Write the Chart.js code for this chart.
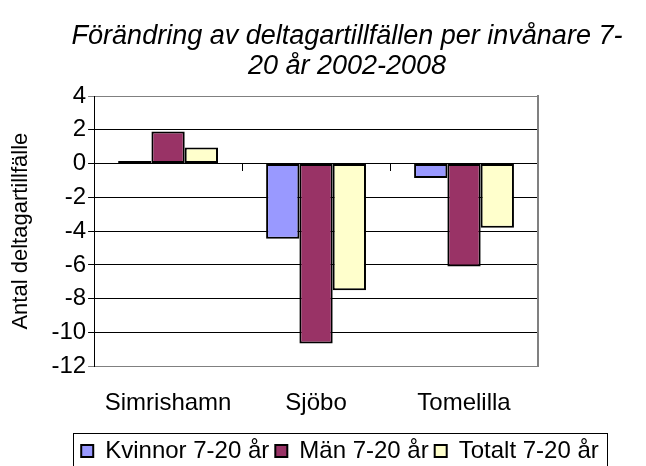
<!DOCTYPE html>
<html>
<head>
<meta charset="utf-8">
<script src="https://cdn.jsdelivr.net/npm/chart.js@4/dist/chart.umd.min.js"></script>
<style>
  html, body { margin: 0; padding: 0; background: #fff; }
  #wrap { width: 646px; height: 466px; }
</style>
</head>
<body>
<div id="wrap"><canvas id="chart" width="646" height="466"></canvas></div>
<script>
const kommuner = ['Simrishamn', 'Sjöbo', 'Tomelilla'];
const kvinnor = [0.15, -4.45, -0.85];
const man = [1.9, -10.65, -6.1];
const totalt = [0.95, -7.5, -3.8];
const yTicks = [4, 2, 0, -2, -4, -6, -8, -10, -12];

const FONT = '"Liberation Sans", Arial, sans-serif';

// flytta rubrik och legend lite åt höger, ram runt legenden, streck på nollinjen
const extras = {
  id: 'extras',
  afterLayout(chart) {
    chart.titleBlock.left += 20;
    chart.titleBlock.right += 20;
    chart.legend.left += 13;
    chart.legend.right += 13;
    chart.legend.adjustHitBoxes();
  },
  afterDraw(chart) {
    const ctx = chart.ctx;
    const lg = chart.legend;
    const hb = lg.legendHitBoxes;
    ctx.save();
    ctx.strokeStyle = '#000';
    ctx.lineWidth = 1;
    const bl = Math.round(hb[0].left) - 8;
    const br = Math.round(hb[hb.length - 1].left + hb[hb.length - 1].width) + 8;
    ctx.strokeRect(bl + 0.5, Math.round(lg.top) + 0.5, br - bl, chart.height);

    const x = chart.scales.x;
    const y0 = Math.round(chart.scales.y.getPixelForValue(0));
    const step = x.getPixelForValue(1) - x.getPixelForValue(0);
    for (let i = 1; i < kommuner.length; i++) {
      const px = Math.round(x.getPixelForValue(i) - step / 2) + 0.5;
      ctx.beginPath();
      ctx.moveTo(px, y0);
      ctx.lineTo(px, y0 + 7);
      ctx.stroke();
    }
    ctx.restore();
  }
};

const ds = (label, data, color) => ({
  label: label,
  data: data,
  backgroundColor: color,
  borderColor: '#000',
  borderWidth: 2,
  borderSkipped: false,
  barPercentage: 1,
  categoryPercentage: 0.675
});

new Chart(document.getElementById('chart'), {
  type: 'bar',
  data: {
    labels: kommuner,
    datasets: [
      ds('Kvinnor 7-20 år', kvinnor, '#9999ff'),
      ds('Män 7-20 år', man, '#993366'),
      ds('Totalt 7-20 år', totalt, '#ffffcc')
    ]
  },
  plugins: [extras],
  options: {
    responsive: false,
    animation: false,
    layout: { padding: { left: 8, right: 0, top: 21, bottom: -7 } },
    plugins: {
      title: {
        display: true,
        text: ['Förändring av deltagartillfällen per invånare 7-', '20 år 2002-2008'],
        color: '#000',
        font: { family: FONT, size: 27, style: 'italic', weight: 'normal', lineHeight: 1.13 },
        padding: { top: 0, bottom: 14 },
        align: 'center'
      },
      legend: {
        position: 'bottom',
        labels: {
          color: '#000',
          font: { family: FONT, size: 24 },
          boxWidth: 12,
          boxHeight: 12,
          padding: 6,
          useBorderRadius: false
        }
      },
      tooltip: { enabled: false }
    },
    scales: {
      x: {
        grid: { display: false },
        border: { display: false },
        ticks: { color: '#000', font: { family: FONT, size: 24 }, padding: 15 }
      },
      y: {
        min: -12,
        max: 4,
        afterBuildTicks(axis) { axis.ticks = yTicks.map(v => ({ value: v })); },
        title: {
          display: true,
          text: 'Antal deltagartillfälle',
          color: '#000',
          font: { family: FONT, size: 22 },
          padding: { top: 0, bottom: 15 }
        },
        border: { display: true, color: '#000', width: 1 },
        grid: {
          color: c => (c.tick && (c.tick.value === 4 || c.tick.value === -12)) ? '#808080' : '#000',
          lineWidth: 1,
          tickLength: 6,
          drawTicks: true
        },
        ticks: { color: '#000', font: { family: FONT, size: 24 }, padding: 2 }
      },
      y2: {
        position: 'right',
        grid: { display: false },
        ticks: { display: false },
        border: { display: true, color: '#808080', width: 2 },
        afterFit(axis) { axis.width = 108; }
      }
    }
  }
});
</script>
</body>
</html>
